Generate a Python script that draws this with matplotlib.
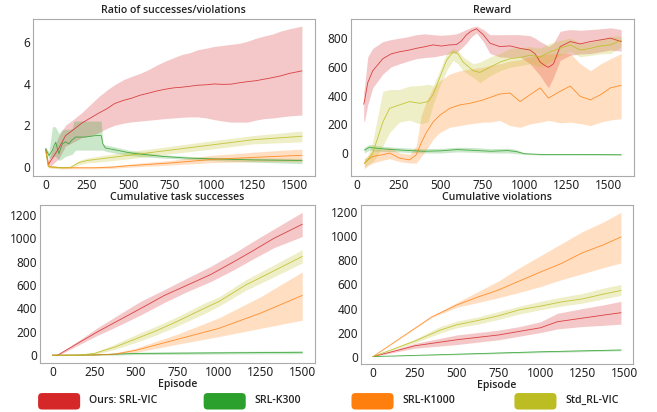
import numpy as np
import matplotlib
matplotlib.use("agg")
import matplotlib.pyplot as plt
from matplotlib.patches import FancyBboxPatch

# series colours / labels
labels = ["Ours: SRL-VIC", "SRL-K300", "SRL-K1000", "Std_RL-VIC"]
colors = ["#d62728", "#2ca02c", "#ff7f0e", "#bcbd22"]

# --- Ratio of successes/violations (top left) ---
ratio_red_x = [0, 15, 40, 80, 120, 170, 217, 270, 317, 370, 417, 470, 517, 570, 617, 670, 717,
               770, 817, 870, 917, 970, 1017, 1070, 1117, 1170, 1217, 1270, 1317, 1370, 1417, 1470, 1545]
ratio_red = [0.85, 0.1, 0.4, 0.9, 1.5, 1.8, 2.1, 2.35, 2.57, 2.8, 3.05, 3.2, 3.3, 3.45, 3.54, 3.65, 3.73,
             3.8, 3.83, 3.88, 3.93, 3.95, 3.99, 3.97, 3.98, 4.05, 4.1, 4.15, 4.22, 4.3, 4.38, 4.5, 4.62]
ratio_red_hi = [0.95, 0.3, 0.8, 1.5, 2.0, 2.3, 2.6, 3.0, 3.36, 3.7, 3.96, 4.2, 4.35, 4.5, 4.67, 4.9, 5.08,
                5.25, 5.4, 5.5, 5.64, 5.72, 5.8, 5.85, 5.9, 5.95, 6.05, 6.2, 6.3, 6.4, 6.54, 6.65, 6.78]
ratio_red_lo = [0.75, 0.0, 0.1, 0.4, 1.0, 1.2, 1.4, 1.5, 1.63, 1.85, 2.0, 2.1, 2.16, 2.2, 2.24, 2.28, 2.32,
                2.35, 2.38, 2.4, 2.4, 2.35, 2.27, 2.2, 2.15, 2.15, 2.15, 2.25, 2.32, 2.35, 2.4, 2.45, 2.49]

ratio_green_x = [0, 20, 40, 50, 60, 80, 100, 120, 140, 160, 170, 180, 240, 300, 335, 345, 360,
                 420, 500, 560, 700, 850, 1000, 1250, 1545]
ratio_green = [0.86, 0.54, 0.78, 1.0, 1.18, 0.63, 1.1, 1.2, 1.1, 1.3, 1.35, 1.43, 1.43, 1.5, 1.5, 1.1, 0.9,
               0.81, 0.68, 0.62, 0.5, 0.42, 0.38, 0.33, 0.3]
ratio_green_hi = [0.95, 0.7, 1.9, 1.95, 1.9, 1.6, 1.8, 1.8, 1.8, 1.85, 2.2, 2.2, 2.2, 2.2, 2.2, 1.1, 1.05,
                  0.95, 0.8, 0.72, 0.58, 0.5, 0.45, 0.42, 0.4]
ratio_green_lo = [0.75, 0.4, 0.45, 0.5, 0.5, 0.3, 0.38, 0.5, 0.55, 0.6, 0.7, 0.8, 0.8, 0.8, 0.8, 0.8, 0.75,
                  0.65, 0.55, 0.5, 0.42, 0.36, 0.3, 0.22, 0.15]

ratio_orange_x = [0, 20, 100, 200, 300, 400, 500, 600, 750, 900, 1000, 1125, 1250, 1400, 1545]
ratio_orange = [0.8, 0.0, -0.05, -0.05, -0.05, -0.02, 0.05, 0.1, 0.18, 0.28, 0.35, 0.4, 0.45, 0.5, 0.55]
ratio_orange_hi = [0.85, 0.05, 0.0, 0.0, 0.0, 0.05, 0.12, 0.2, 0.3, 0.45, 0.55, 0.62, 0.7, 0.78, 0.85]
ratio_orange_lo = [0.75, -0.05, -0.1, -0.1, -0.1, -0.08, -0.02, 0.02, 0.08, 0.15, 0.2, 0.22, 0.25, 0.25, 0.25]

ratio_olive_x = [0, 15, 100, 150, 200, 250, 350, 500, 750, 1000, 1250, 1545]
ratio_olive = [0.8, 0.0, -0.05, -0.03, 0.2, 0.3, 0.4, 0.55, 0.8, 1.05, 1.3, 1.47]
ratio_olive_hi = [0.85, 0.05, 0.0, 0.02, 0.3, 0.42, 0.55, 0.72, 0.98, 1.25, 1.5, 1.72]
ratio_olive_lo = [0.75, -0.05, -0.1, -0.08, 0.1, 0.18, 0.25, 0.38, 0.62, 0.85, 1.1, 1.2]

# --- Reward (top right) ---
rew_red_x = [42, 46, 66, 96, 156, 205, 255, 305, 355, 405, 455, 505, 554, 594, 624, 654, 684, 714,
             754, 794, 853, 913, 973, 1033, 1063, 1093, 1120, 1142, 1172, 1212, 1272, 1332, 1392, 1452, 1512, 1575]
rew_red = [340, 358, 490, 573, 657, 690, 705, 715, 729, 740, 753, 745, 753, 755, 780, 824, 850, 865,
           824, 765, 741, 746, 729, 717, 690, 633, 610, 597, 621, 741, 776, 760, 776, 788, 800, 776]
rew_red_hi = [420, 450, 669, 729, 776, 790, 800, 810, 824, 830, 824, 820, 824, 830, 845, 860, 875, 884,
              860, 824, 824, 825, 824, 817, 800, 776, 760, 741, 765, 848, 860, 855, 860, 865, 872, 860]
rew_red_lo = [230, 215, 337, 454, 550, 600, 621, 640, 657, 665, 669, 680, 693, 700, 730, 765, 810, 836,
              776, 693, 669, 665, 669, 621, 580, 538, 490, 454, 526, 645, 681, 690, 693, 705, 717, 710]

rew_green_x = [46, 76, 100, 150, 200, 300, 400, 500, 600, 700, 800, 900, 950, 1000, 1100, 1300, 1575]
rew_green = [20, 40, 35, 30, 25, 18, 12, 15, 24, 18, 12, 17, 10, -5, -10, -10, -12]
rew_green_hi = [40, 60, 55, 48, 42, 35, 30, 32, 40, 38, 30, 33, 25, 0, -5, -5, -7]
rew_green_lo = [0, 20, 15, 12, 10, 5, 0, 0, 8, 5, 0, 0, -5, -10, -15, -15, -17]

rew_orange_x = [46, 66, 96, 156, 196, 255, 315, 355, 385, 415, 455, 495, 554, 614, 674, 754, 794, 853,
                913, 973, 1033, 1093, 1142, 1212, 1272, 1332, 1392, 1452, 1512, 1575]
rew_orange = [-72, -48, -24, -12, 0, -36, -48, -12, 72, 143, 215, 263, 311, 335, 346, 370, 387, 411,
              418, 358, 406, 454, 382, 430, 466, 394, 370, 406, 454, 471]
rew_orange_hi = [-40, -20, 20, 30, 40, 0, -10, 50, 263, 358, 454, 502, 550, 573, 585, 597, 610, 621,
                 640, 650, 669, 680, 690, 693, 693, 621, 573, 620, 657, 693]
rew_orange_lo = [-110, -90, -70, -50, -40, -60, -70, -70, -24, 24, 96, 143, 179, 191, 203, 215, 215, 227,
                 191, 179, 203, 215, 227, 210, 215, 205, 191, 215, 230, 239]

rew_olive_x = [46, 66, 96, 116, 156, 196, 255, 315, 375, 425, 455, 495, 535, 574, 604, 634, 694, 734,
               794, 853, 913, 973, 1033, 1093, 1152, 1212, 1272, 1332, 1392, 1452, 1512, 1575]
rew_olive = [-72, -48, 0, 72, 215, 311, 335, 358, 346, 358, 406, 526, 645, 705, 690, 633, 573, 561,
             597, 633, 657, 665, 681, 669, 705, 730, 753, 717, 729, 746, 753, 784]
rew_olive_hi = [-40, -20, 80, 200, 430, 442, 442, 466, 470, 478, 470, 573, 693, 729, 710, 669, 621, 633,
                669, 693, 729, 735, 741, 730, 765, 785, 800, 765, 770, 790, 812, 815]
rew_olive_lo = [-100, -80, -60, -30, 50, 143, 215, 229, 203, 215, 335, 466, 573, 645, 620, 573, 526, 490,
                538, 573, 597, 610, 621, 600, 633, 680, 705, 670, 680, 690, 693, 740]

# --- Cumulative task successes (bottom left) ---
succ_red_x = [0, 30, 125, 270, 400, 530, 670, 810, 950, 1090, 1200, 1330, 1500]
succ_red = [0, 0, 80, 200, 300, 400, 510, 600, 690, 800, 890, 1000, 1120]
succ_red_hi = [0, 5, 95, 235, 350, 462, 560, 661, 760, 873, 970, 1080, 1222]
succ_red_lo = [0, -5, 65, 170, 255, 345, 450, 545, 630, 732, 820, 920, 1015]

succ_green_x = [0, 250, 500, 1000, 1500]
succ_green = [0, 3, 15, 20, 25]
succ_green_hi = [0, 8, 25, 32, 37]
succ_green_lo = [0, -2, 5, 10, 13]

succ_orange_x = [0, 250, 375, 500, 750, 1000, 1250, 1500]
succ_orange = [0, 2, 10, 42, 136, 230, 360, 511]
succ_orange_hi = [0, 4, 18, 60, 180, 320, 500, 712]
succ_orange_lo = [0, 0, 5, 25, 94, 160, 230, 300]

succ_olive_x = [0, 150, 250, 375, 500, 625, 750, 910, 1000, 1160, 1300, 1500]
succ_olive = [0, 0, 15, 70, 140, 210, 290, 400, 460, 600, 700, 845]
succ_olive_hi = [0, 3, 25, 95, 175, 250, 330, 445, 500, 645, 750, 902]
succ_olive_lo = [0, -3, 5, 50, 110, 175, 250, 355, 420, 555, 650, 789]

# --- Cumulative violations (bottom right) ---
viol_red_x = [0, 250, 500, 750, 875, 1000, 1100, 1250, 1375, 1480]
viol_red = [0, 90, 140, 180, 210, 240, 290, 320, 345, 365]
viol_red_hi = [0, 110, 180, 220, 250, 290, 360, 400, 430, 460]
viol_red_lo = [0, 70, 100, 140, 170, 200, 230, 250, 260, 270]

viol_green_x = [0, 500, 1000, 1480]
viol_green = [0, 20, 40, 55]
viol_green_hi = [0, 25, 47, 62]
viol_green_lo = [0, 15, 33, 48]

viol_orange_x = [0, 350, 500, 625, 750, 875, 1000, 1125, 1250, 1375, 1480]
viol_orange = [0, 330, 430, 495, 555, 630, 704, 775, 864, 930, 995]
viol_orange_hi = [0, 335, 450, 540, 630, 740, 840, 940, 1040, 1120, 1200]
viol_orange_lo = [0, 325, 410, 450, 490, 535, 583, 640, 690, 740, 779]

viol_olive_x = [0, 250, 400, 500, 625, 750, 875, 1000, 1125, 1250, 1375, 1480]
viol_olive = [0, 130, 220, 265, 300, 340, 390, 420, 455, 480, 520, 550]
viol_olive_hi = [0, 145, 250, 295, 330, 375, 420, 460, 495, 525, 570, 600]
viol_olive_lo = [0, 115, 195, 240, 270, 310, 355, 390, 420, 445, 480, 510]

xticks = [0, 250, 500, 750, 1000, 1250, 1500]
panels = [
    ("Ratio of successes/violations", [0, 2, 4, 6],
     [(ratio_red_x, ratio_red, ratio_red_lo, ratio_red_hi),
      (ratio_green_x, ratio_green, ratio_green_lo, ratio_green_hi),
      (ratio_orange_x, ratio_orange, ratio_orange_lo, ratio_orange_hi),
      (ratio_olive_x, ratio_olive, ratio_olive_lo, ratio_olive_hi)], None),
    ("Reward", [0, 200, 400, 600, 800],
     [(rew_red_x, rew_red, rew_red_lo, rew_red_hi),
      (rew_green_x, rew_green, rew_green_lo, rew_green_hi),
      (rew_orange_x, rew_orange, rew_orange_lo, rew_orange_hi),
      (rew_olive_x, rew_olive, rew_olive_lo, rew_olive_hi)], None),
    ("Cumulative task successes", [0, 200, 400, 600, 800, 1000, 1200],
     [(succ_red_x, succ_red, succ_red_lo, succ_red_hi),
      (succ_green_x, succ_green, succ_green_lo, succ_green_hi),
      (succ_orange_x, succ_orange, succ_orange_lo, succ_orange_hi),
      (succ_olive_x, succ_olive, succ_olive_lo, succ_olive_hi)], "Episode"),
    ("Cumulative violations", [0, 200, 400, 600, 800, 1000, 1200],
     [(viol_red_x, viol_red, viol_red_lo, viol_red_hi),
      (viol_green_x, viol_green, viol_green_lo, viol_green_hi),
      (viol_orange_x, viol_orange, viol_orange_lo, viol_orange_hi),
      (viol_olive_x, viol_olive, viol_olive_lo, viol_olive_hi)], "Episode"),
]

# axes boxes [left, bottom, width, height] in figure fraction
boxes = [
    [0.050, 0.573, 0.429, 0.381],
    [0.534, 0.573, 0.431, 0.381],
    [0.061, 0.119, 0.418, 0.383],
    [0.549, 0.117, 0.415, 0.385],
]

plt.rcParams["font.family"] = ["Noto Sans", "DejaVu Sans"]
head_font = dict(family="Open Sans", fontweight="semibold", color="#222222")

fig = plt.figure(figsize=(6.57, 4.12), dpi=100)
fig.patch.set_facecolor("white")

for (title, yt, series, xlabel), box in zip(panels, boxes):
    ax = fig.add_axes(box)
    for (x, m, lo, hi), c in zip(series, colors):
        ax.fill_between(x, lo, hi, color=c, alpha=0.25, linewidth=0)
        ax.plot(x, m, color=c, linewidth=0.6, alpha=0.85)
    ax.set_xticks(xticks)
    ax.set_yticks(yt)
    ax.tick_params(length=0, labelsize=8.5, colors="#222222", pad=2)
    for sp in ax.spines.values():
        sp.set_color("#aaaaaa")
        sp.set_linewidth(0.8)
    ax.set_title(title, fontsize=7.6, pad=4, **head_font)
    if xlabel:
        ax.set_xlabel(xlabel, fontsize=7.6, labelpad=0, **head_font)

# legend drawn as rounded swatches
leg_x = [0.058, 0.310, 0.535, 0.783]
for lx, lab, c in zip(leg_x, labels, colors):
    fig.patches.append(FancyBboxPatch((lx, 0.006), 0.064, 0.040,
                                      boxstyle="round,pad=0,rounding_size=0.006",
                                      transform=fig.transFigure, facecolor=c,
                                      edgecolor="none", mutation_aspect=1.6))
    fig.text(lx + 0.078, 0.027, lab, fontsize=7.6, va="center", ha="left", **head_font)

fig.savefig("out.png", dpi=100)
